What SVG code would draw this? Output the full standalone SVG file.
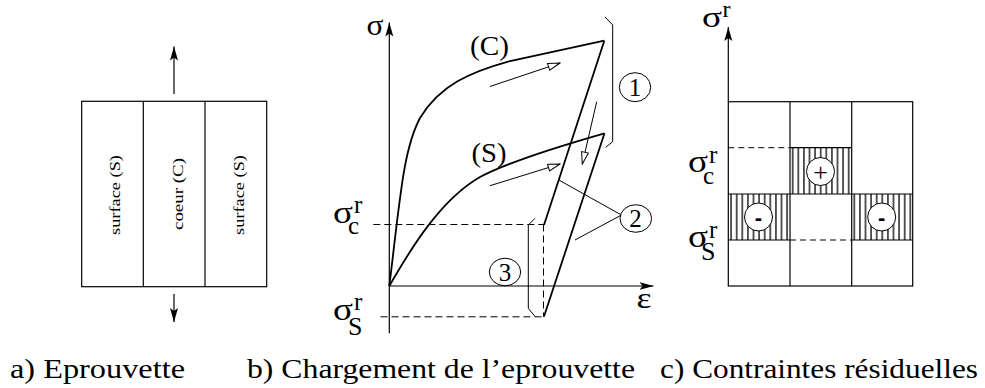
<svg xmlns="http://www.w3.org/2000/svg" width="985" height="388" viewBox="0 0 985 388">
<style>
.ln{fill:none;stroke:#000;stroke-width:1.2}
.cv{fill:none;stroke:#000;stroke-width:1.8}
.th{fill:none;stroke:#000;stroke-width:1}
.ds{fill:none;stroke:#000;stroke-width:1;stroke-dasharray:7 4}
.circ{fill:#fff;stroke:#000;stroke-width:1}
text{fill:#000}
</style>
<defs>
<marker id="ah" markerUnits="userSpaceOnUse" markerWidth="16" markerHeight="10" refX="14" refY="4" orient="auto">
<path d="M0,0 L14,4 L0,8 L3,4 Z" fill="#000"/>
</marker>
<marker id="oh" markerUnits="userSpaceOnUse" markerWidth="14" markerHeight="9" refX="13" refY="4" orient="auto">
<path d="M1,0.5 L13,4 L1,7.5 Z" fill="#fff" stroke="#000" stroke-width="1"/>
</marker>
<pattern id="hatch" patternUnits="userSpaceOnUse" x="728.3" y="0" width="5.6" height="10">
<line x1="2.8" y1="0" x2="2.8" y2="10" stroke="#000" stroke-width="1.3"/>
</pattern>
</defs>

<!-- Panel a -->
<g id="specimen">
<rect x="81.7" y="101.3" width="185" height="185.4" class="ln"/>
<line x1="143.3" y1="101.3" x2="143.3" y2="286.7" class="ln"/>
<line x1="205" y1="101.3" x2="205" y2="286.7" class="ln"/>
</g>
<g id="surface-left" font-family="Liberation Serif, Times New Roman, serif">
<text font-size="14.5" text-anchor="middle" textLength="80" lengthAdjust="spacingAndGlyphs" transform="translate(120.4,195) rotate(-90)">surface (S)</text>
</g>
<g id="coeur" font-family="Liberation Serif, Times New Roman, serif">
<text font-size="14.5" text-anchor="middle" textLength="72" lengthAdjust="spacingAndGlyphs" transform="translate(183,194) rotate(-90)">coeur (C)</text>
</g>
<g id="surface-right" font-family="Liberation Serif, Times New Roman, serif">
<text font-size="14.5" text-anchor="middle" textLength="80" lengthAdjust="spacingAndGlyphs" transform="translate(243.7,195) rotate(-90)">surface (S)</text>
</g>

<!-- Panel b -->
<g id="axes-b" font-family="Liberation Serif, Times New Roman, serif">
<line x1="389.3" y1="333.3" x2="389.3" y2="22.5" class="ln" marker-end="url(#ah)"/>
<line x1="389.3" y1="286" x2="653.5" y2="286" class="ln" marker-end="url(#ah)"/>
<text font-size="30" x="366.5" y="35" textLength="17" lengthAdjust="spacingAndGlyphs">σ</text>
<text font-size="30" x="636.5" y="308" textLength="15" lengthAdjust="spacingAndGlyphs">ε</text>
</g>
<g id="curve-C" font-family="Liberation Serif, Times New Roman, serif">
<path class="cv" d="M389.3,286 C400,200 403,150 420,118 C440,85 470,72 510,61 L604.3,40.7"/>
<text font-size="27" x="470" y="55" textLength="39" lengthAdjust="spacingAndGlyphs">(C)</text>
</g>
<g id="curve-S" font-family="Liberation Serif, Times New Roman, serif">
<path class="cv" d="M389.3,286 C410,250 440,200 480,177 C510,161 560,146 604.5,133.3"/>
<text font-size="27" x="471.5" y="162" textLength="35" lengthAdjust="spacingAndGlyphs">(S)</text>
</g>
<g id="label-sc-b" font-family="Liberation Serif, Times New Roman, serif">
<text font-size="31" x="333" y="223.3" textLength="20" lengthAdjust="spacingAndGlyphs">σ</text>
<text font-size="25" x="354" y="213">r</text>
<text font-size="25" x="348" y="233.5">c</text>
</g>
<g id="label-ss-b" font-family="Liberation Serif, Times New Roman, serif">
<text font-size="31" x="333" y="320" textLength="20" lengthAdjust="spacingAndGlyphs">σ</text>
<text font-size="25" x="354" y="309.5">r</text>
<text font-size="26" x="348" y="335">S</text>
</g>
<g id="circle-1" font-family="Liberation Serif, Times New Roman, serif">
<path class="th" d="M605,17 L612.7,25 L612.7,141.7 L605.7,147.3"/>
<ellipse cx="635" cy="87.2" rx="15.7" ry="14.5" class="th"/>
<text font-size="25" x="635" y="95.5" text-anchor="middle">1</text>
</g>
<g id="circle-2" font-family="Liberation Serif, Times New Roman, serif">
<ellipse cx="635.8" cy="218.5" rx="15.8" ry="13.8" class="th"/>
<text font-size="25" x="635.5" y="226.5" text-anchor="middle">2</text>
</g>
<g id="circle-3" font-family="Liberation Serif, Times New Roman, serif">
<path class="th" d="M535,218.3 L528.3,225 L528.3,308.3 L535,316.5"/>
<ellipse cx="505" cy="272" rx="15.7" ry="13.8" class="th"/>
<text font-size="25" x="505" y="280.5" text-anchor="middle">3</text>
</g>
<g id="connectors">
<line x1="604.3" y1="40.7" x2="544" y2="225" class="cv"/>
<line x1="604.5" y1="133.3" x2="544" y2="316.5" class="cv"/>
<line x1="373.3" y1="224.5" x2="544" y2="224.5" class="ds"/>
<line x1="380.5" y1="316.8" x2="544" y2="316.8" class="ds"/>
<line x1="543.5" y1="224.5" x2="543.5" y2="316.8" class="ds"/>
<line x1="490" y1="86.5" x2="560" y2="63" class="th" marker-end="url(#oh)"/>
<line x1="490" y1="185.7" x2="560" y2="164" class="th" marker-end="url(#oh)"/>
<line x1="596.7" y1="101.7" x2="582.3" y2="164" class="th" marker-end="url(#oh)"/>
<line x1="558.8" y1="180" x2="620.5" y2="214.5" class="th"/>
<line x1="620.5" y1="215.5" x2="575" y2="240" class="th"/>
<line x1="174" y1="94" x2="174" y2="46.5" class="ln" marker-end="url(#ah)"/>
<line x1="174" y1="294" x2="174" y2="322" class="ln" marker-end="url(#ah)"/>
<line x1="728.3" y1="101.7" x2="728.3" y2="27" class="ln" marker-end="url(#ah)"/>
</g>

<!-- Panel c -->
<g id="residual-grid">
<rect x="790" y="147.7" width="61.7" height="46.3" fill="url(#hatch)"/>
<rect x="728.3" y="194" width="61.7" height="46" fill="url(#hatch)"/>
<rect x="851.7" y="194" width="61" height="46" fill="url(#hatch)"/>
<rect x="728.3" y="101.7" width="184.4" height="184.3" class="ln"/>
<line x1="790" y1="101.7" x2="790" y2="286" class="ln"/>
<line x1="851.7" y1="101.7" x2="851.7" y2="286" class="ln"/>
<line x1="790" y1="147.7" x2="851.7" y2="147.7" class="ln"/>
<line x1="728.3" y1="194" x2="912.7" y2="194" class="ln"/>
<line x1="728.3" y1="240" x2="790" y2="240" class="ln"/>
<line x1="851.7" y1="240" x2="912.7" y2="240" class="ln"/>
<line x1="728.3" y1="147.7" x2="790" y2="147.7" class="ds" style="stroke-dasharray:6 4"/>
<line x1="790" y1="240" x2="851.7" y2="240" class="ds" style="stroke-dasharray:6 4"/>
</g>
<g id="plus" font-family="Liberation Serif, Times New Roman, serif">
<circle cx="820.5" cy="171.5" r="14" class="circ"/>
<text font-size="26" x="820.5" y="180.5" text-anchor="middle">+</text>
</g>
<g id="minus-left" font-family="Liberation Sans, Arial, sans-serif">
<circle cx="758.5" cy="217" r="14" class="circ"/>
<text font-weight="bold" font-size="22" x="758.5" y="224.5" text-anchor="middle">-</text>
</g>
<g id="minus-right" font-family="Liberation Sans, Arial, sans-serif">
<circle cx="881.7" cy="217" r="14" class="circ"/>
<text font-weight="bold" font-size="22" x="881.7" y="224.5" text-anchor="middle">-</text>
</g>
<g id="label-sr" font-family="Liberation Serif, Times New Roman, serif">
<text font-size="30" x="702" y="26.5" textLength="20" lengthAdjust="spacingAndGlyphs">σ</text>
<text font-size="24" x="722.5" y="16.5">r</text>
</g>
<g id="label-sc-c" font-family="Liberation Serif, Times New Roman, serif">
<text font-size="31" x="688" y="171.7" textLength="20" lengthAdjust="spacingAndGlyphs">σ</text>
<text font-size="25" x="709" y="163">r</text>
<text font-size="25" x="703" y="183.5">c</text>
</g>
<g id="label-ss-c" font-family="Liberation Serif, Times New Roman, serif">
<text font-size="31" x="688" y="246.7" textLength="20" lengthAdjust="spacingAndGlyphs">σ</text>
<text font-size="25" x="709" y="238">r</text>
<text font-size="26" x="701" y="260">S</text>
</g>

<!-- Captions -->
<g id="captions" font-family="Liberation Serif, Times New Roman, serif" font-size="28">
<text x="10" y="378" textLength="175" lengthAdjust="spacingAndGlyphs">a) Eprouvette</text>
<text x="247" y="378" textLength="388" lengthAdjust="spacingAndGlyphs">b) Chargement de l’eprouvette</text>
<text x="660" y="378" textLength="318" lengthAdjust="spacingAndGlyphs">c) Contraintes résiduelles</text>
</g>
</svg>
